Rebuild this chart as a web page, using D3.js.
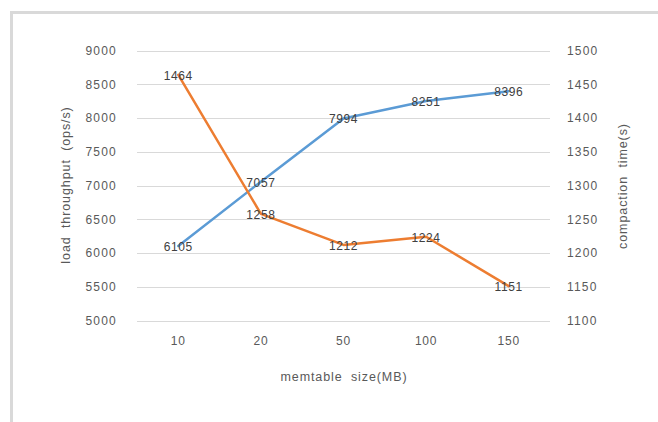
<!DOCTYPE html>
<html>
<head>
<meta charset="utf-8">
<script src="https://cdn.jsdelivr.net/npm/d3@7"></script>
<style>
  html, body { margin: 0; padding: 0; background: #fff; }
  svg { display: block; }
  text { font-family: "Liberation Sans", "DejaVu Sans", sans-serif; }
</style>
</head>
<body>
<svg id="chart" width="658" height="422"></svg>
<script>
// memtable size categories (MB)
const categories = ["10", "20", "50", "100", "150"];
// load throughput (ops/s), left axis
const throughput = [6105, 7057, 7994, 8251, 8396];
// compaction time (s), right axis
const compaction = [1464, 1258, 1212, 1224, 1151];
const leftTicks = [5000, 5500, 6000, 6500, 7000, 7500, 8000, 8500, 9000];
const rightTicks = [1100, 1150, 1200, 1250, 1300, 1350, 1400, 1450, 1500];

const W = 658, H = 422;
const plot = { left: 137, right: 550, top: 50.5, bottom: 320.5 };
const gray = "#595959";
const gridColor = "#d9d9d9";

const svg = d3.select("#chart");

// chart area frame
svg.append("rect")
  .attr("x", 11.5).attr("y", 12.5)
  .attr("width", W + 20).attr("height", H + 20)
  .attr("fill", "#fff")
  .attr("stroke", "#d9d9d9").attr("stroke-width", 3);

const x = d3.scaleBand().domain(categories).range([plot.left, plot.right]).padding(0);
const yL = d3.scaleLinear().domain([5000, 9000]).range([plot.bottom, plot.top]);
const yR = d3.scaleLinear().domain([1100, 1500]).range([plot.bottom, plot.top]);
const cx = d => x(d) + x.bandwidth() / 2;

// horizontal gridlines
svg.append("g").selectAll("line").data(leftTicks).join("line")
  .attr("x1", plot.left).attr("x2", plot.right)
  .attr("y1", d => Math.round(yL(d)) + 0.5).attr("y2", d => Math.round(yL(d)) + 0.5)
  .attr("stroke", gridColor).attr("stroke-width", 1);

// left axis
const axL = svg.append("g").attr("transform", `translate(${plot.left - 20},0)`)
  .call(d3.axisLeft(yL).tickValues(leftTicks).tickSize(0).tickPadding(0).tickFormat(d3.format("d")));
axL.select(".domain").remove();
axL.selectAll("text").attr("fill", gray).attr("font-size", 12).attr("letter-spacing", 1.2);

// right axis
const axR = svg.append("g").attr("transform", `translate(${plot.right + 17},0)`)
  .call(d3.axisRight(yR).tickValues(rightTicks).tickSize(0).tickPadding(0).tickFormat(d3.format("d")));
axR.select(".domain").remove();
axR.selectAll("text").attr("fill", gray).attr("font-size", 12).attr("letter-spacing", 1.2);

// bottom axis
const axB = svg.append("g").attr("transform", `translate(0,${plot.bottom + 16})`)
  .call(d3.axisBottom(x).tickSize(0).tickPadding(0));
axB.select(".domain").remove();
axB.selectAll("text").attr("fill", gray).attr("font-size", 12).attr("letter-spacing", 0.8);

// axis titles
const titleStyle = sel => sel
  .attr("text-anchor", "middle").attr("fill", gray).attr("font-size", 12.5)
  .attr("letter-spacing", 0.9).attr("word-spacing", 4);

svg.append("text")
  .attr("transform", `translate(70,185) rotate(-90)`)
  .call(titleStyle)
  .text("load throughput (ops/s)");

svg.append("text")
  .attr("transform", `translate(627,186) rotate(-90)`)
  .call(titleStyle)
  .text("compaction time(s)");

svg.append("text")
  .attr("x", 344).attr("y", 381)
  .call(titleStyle)
  .text("memtable size(MB)");

// series lines
const lineL = d3.line().x((d, i) => cx(categories[i])).y(d => yL(d));
const lineR = d3.line().x((d, i) => cx(categories[i])).y(d => yR(d));

svg.append("path").datum(throughput)
  .attr("d", lineL).attr("fill", "none")
  .attr("stroke", "#5b9bd5").attr("stroke-width", 2.5)
  .attr("stroke-linejoin", "round").attr("stroke-linecap", "round");

svg.append("path").datum(compaction)
  .attr("d", lineR).attr("fill", "none")
  .attr("stroke", "#ed7d31").attr("stroke-width", 2.5)
  .attr("stroke-linejoin", "round").attr("stroke-linecap", "round");

// data labels centred on each point
const labelStyle = sel => sel
  .attr("text-anchor", "middle").attr("dominant-baseline", "central")
  .attr("fill", "#404040").attr("font-size", 12).attr("letter-spacing", 0.6);

svg.append("g").selectAll("text").data(throughput).join("text")
  .attr("x", (d, i) => cx(categories[i])).attr("y", d => yL(d) + 1)
  .call(labelStyle).text(d => d);

svg.append("g").selectAll("text").data(compaction).join("text")
  .attr("x", (d, i) => cx(categories[i])).attr("y", d => yR(d) + 1)
  .call(labelStyle).text(d => d);
</script>
</body>
</html>
